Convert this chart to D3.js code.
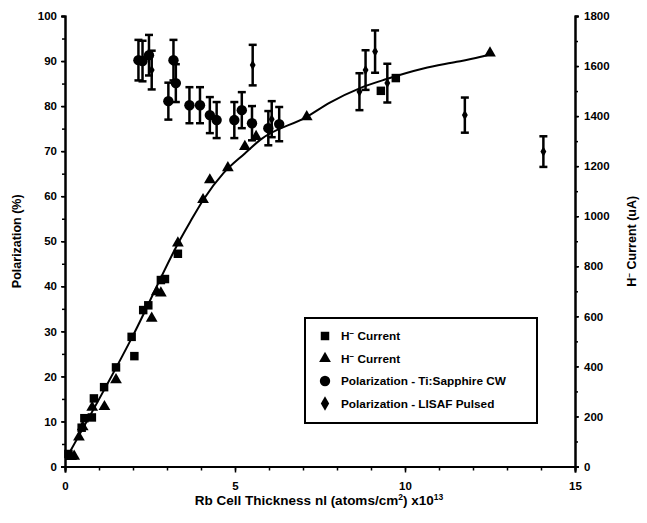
<!DOCTYPE html>
<html>
<head>
<meta charset="utf-8">
<script src="https://cdn.jsdelivr.net/npm/d3@7"></script>
<style>
  body { margin: 0; background: #fff; }
  svg text { font-family: "Liberation Sans", Arial, sans-serif; font-weight: bold; fill: #000; }
</style>
</head>
<body>
<div id="chart"></div>
<script>
// H- current, squares (x in 1e13 atoms/cm2, y in uA)
const squareX = [0.10, 0.49, 0.57, 0.79, 0.85, 1.15, 1.50, 1.96, 2.04, 2.30, 2.45, 2.82, 2.94, 3.32, 9.29, 9.73];
const squareY = [50, 155, 193, 196, 272, 317, 396, 518, 441, 625, 644, 745, 749, 850, 1501, 1552];

// H- current, triangles
const triX = [0.18, 0.27, 0.41, 0.52, 0.80, 1.16, 1.50, 2.55, 2.70, 2.82, 3.32, 4.06, 4.26, 4.79, 5.29, 5.62, 7.11, 12.5];
const triY = [40, 41, 117, 158, 236, 239, 346, 592, 698, 693, 893, 1066, 1145, 1193, 1278, 1318, 1397, 1652];

// Polarization - Ti:Sapphire CW (percent, +/- error)
const cwX = [2.16, 2.28, 2.47, 3.04, 3.19, 3.26, 3.66, 3.97, 4.26, 4.46, 4.98, 5.20, 5.50, 5.98, 6.30];
const cwY = [90.2, 90.0, 91.3, 81.1, 90.2, 85.1, 80.2, 80.2, 78.0, 76.9, 76.9, 79.1, 76.2, 75.1, 76.0];
const cwErr = [4.5, 4.5, 4.5, 4.1, 4.5, 4.2, 4.0, 4.0, 4.0, 4.0, 4.0, 4.0, 3.8, 3.8, 3.8];

// Polarization - LISAF pulsed
const lisafX = [2.55, 5.52, 6.08, 8.66, 8.84, 9.12, 9.48, 11.76, 14.07];
const lisafY = [88.0, 89.1, 77.1, 83.2, 88.0, 92.1, 85.1, 78.0, 69.9];
const lisafErr = [4.3, 4.5, 4.0, 4.1, 4.4, 4.7, 4.3, 3.9, 3.4];

// fitted curve through H- current (uA)
const fitX = [0.05, 2.01, 3.38, 3.68, 4.07, 4.66, 5.29, 5.74, 7.11, 7.79, 8.68, 9.46, 10.54, 11.52, 12.30, 12.5];
const fitY = [36, 526, 905, 977, 1066, 1172, 1251, 1305, 1397, 1454, 1512, 1548, 1590, 1617, 1639, 1647];

const xTicks = [0, 5, 10, 15];
const leftTicks = [0, 10, 20, 30, 40, 50, 60, 70, 80, 90, 100];
const rightTicks = [0, 200, 400, 600, 800, 1000, 1200, 1400, 1600, 1800];

const W = 647, H = 523;
const plotLeft = 65, plotRight = 575, plotTop = 16, plotBottom = 466.5;

const svg = d3.select('#chart').append('svg')
  .attr('width', W)
  .attr('height', H);

const x = d3.scaleLinear().domain([0, 15]).range([plotLeft, plotRight]);
const yL = d3.scaleLinear().domain([0, 100]).range([plotBottom, plotTop]);
const yR = d3.scaleLinear().domain([0, 1800]).range([plotBottom, plotTop]);

function styleAxis(g) {
  g.select('.domain').attr('stroke', '#000').attr('stroke-width', 2);
  g.selectAll('.tick line').attr('stroke', '#000').attr('stroke-width', 1.5);
  g.selectAll('.tick text').attr('font-size', 11.5).attr('font-family', '"Liberation Sans", Arial, sans-serif').attr('font-weight', 'bold');
}

// minor ticks first
svg.append('g').attr('transform', `translate(0,${plotBottom})`)
  .call(d3.axisBottom(x).tickValues(d3.range(0, 16, 1)).tickSize(4).tickFormat(''))
  .call(styleAxis);
svg.append('g').attr('transform', `translate(${plotLeft},0)`)
  .call(d3.axisLeft(yL).tickValues(d3.range(0, 101, 5)).tickSize(3).tickFormat(''))
  .call(styleAxis);
svg.append('g').attr('transform', `translate(${plotRight},0)`)
  .call(d3.axisRight(yR).tickValues(d3.range(0, 1801, 100)).tickSize(3).tickFormat(''))
  .call(styleAxis);

// major ticks
svg.append('g').attr('transform', `translate(0,${plotBottom})`)
  .call(d3.axisBottom(x).tickValues(xTicks).tickSize(6).tickPadding(9).tickFormat(d3.format('d')))
  .call(styleAxis);
svg.append('g').attr('transform', `translate(${plotLeft},0)`)
  .call(d3.axisLeft(yL).tickValues(leftTicks).tickSize(4).tickPadding(4).tickFormat(d3.format('d')))
  .call(styleAxis);
svg.append('g').attr('transform', `translate(${plotRight},0)`)
  .call(d3.axisRight(yR).tickValues(rightTicks).tickSize(4).tickPadding(5).tickFormat(d3.format('d')))
  .call(styleAxis);

// axis titles
svg.append('text')
  .attr('transform', `translate(21,${(plotTop + plotBottom) / 2}) rotate(-90)`)
  .attr('text-anchor', 'middle')
  .attr('font-size', 12.5)
  .text('Polarization (%)');

const rt = svg.append('text')
  .attr('transform', `translate(636,${(plotTop + plotBottom) / 2}) rotate(-90)`)
  .attr('text-anchor', 'middle')
  .attr('font-size', 12.5);
rt.append('tspan').text('H');
rt.append('tspan').attr('dy', -4).attr('font-size', 8).text('−');
rt.append('tspan').attr('dy', 4).text(' Current (uA)');

const xt = svg.append('text')
  .attr('x', 319)
  .attr('y', 505)
  .attr('text-anchor', 'middle')
  .attr('font-size', 13.5);
xt.append('tspan').text('Rb Cell Thickness nl (atoms/cm');
xt.append('tspan').attr('dy', -5).attr('font-size', 8.5).text('2');
xt.append('tspan').attr('dy', 5).text(') x10');
xt.append('tspan').attr('dy', -5).attr('font-size', 8.5).text('13');

// fitted curve
const fitData = fitX.map((d, i) => [d, fitY[i]]);
svg.append('path')
  .datum(fitData)
  .attr('fill', 'none')
  .attr('stroke', '#000')
  .attr('stroke-width', 2)
  .attr('d', d3.line().x(d => x(d[0])).y(d => yR(d[1])).curve(d3.curveMonotoneX));

// error bars
function errorBars(xs, ys, errs, cap) {
  const data = xs.map((d, i) => ({ x: d, y: ys[i], e: errs[i] }));
  const g = svg.append('g').attr('stroke', '#000').attr('stroke-width', 2.5);
  g.selectAll('line.v').data(data).enter().append('line')
    .attr('x1', d => x(d.x)).attr('x2', d => x(d.x))
    .attr('y1', d => yL(d.y - d.e)).attr('y2', d => yL(d.y + d.e));
  g.selectAll('line.t').data(data).enter().append('line')
    .attr('x1', d => x(d.x) - cap).attr('x2', d => x(d.x) + cap)
    .attr('y1', d => yL(d.y + d.e)).attr('y2', d => yL(d.y + d.e));
  g.selectAll('line.b').data(data).enter().append('line')
    .attr('x1', d => x(d.x) - cap).attr('x2', d => x(d.x) + cap)
    .attr('y1', d => yL(d.y - d.e)).attr('y2', d => yL(d.y - d.e));
}
errorBars(cwX, cwY, cwErr, 4);
errorBars(lisafX, lisafY, lisafErr, 4);

const sq = d3.symbol().type(d3.symbolSquare).size(72);
const tri = d3.symbol().type(d3.symbolTriangle).size(60);
const circ = d3.symbol().type(d3.symbolCircle).size(85);
const dia = d3.symbol().type(d3.symbolDiamond).size(30);

svg.append('g').selectAll('path').data(squareX).enter().append('path')
  .attr('d', sq).attr('fill', '#000')
  .attr('transform', (d, i) => `translate(${x(d)},${yR(squareY[i])})`);
svg.append('g').selectAll('path').data(triX).enter().append('path')
  .attr('d', tri).attr('fill', '#000')
  .attr('transform', (d, i) => `translate(${x(d)},${yR(triY[i])})`);
svg.append('g').selectAll('path').data(cwX).enter().append('path')
  .attr('d', circ).attr('fill', '#000')
  .attr('transform', (d, i) => `translate(${x(d)},${yL(cwY[i])})`);
svg.append('g').selectAll('path').data(lisafX).enter().append('path')
  .attr('d', dia).attr('fill', '#000')
  .attr('transform', (d, i) => `translate(${x(d)},${yL(lisafY[i])})`);

// legend
const legend = svg.append('g');
legend.append('rect')
  .attr('x', 305).attr('y', 318).attr('width', 232).attr('height', 105)
  .attr('fill', '#fff').attr('stroke', '#000').attr('stroke-width', 2);
const legendItems = [
  { sym: sq, label: ['H', '−', ' Current'] },
  { sym: tri, label: ['H', '−', ' Current'] },
  { sym: circ, label: ['Polarization - Ti:Sapphire CW'] },
  { sym: d3.symbol().type(d3.symbolDiamond).size(60), label: ['Polarization - LISAF Pulsed'] }
];
legendItems.forEach((item, i) => {
  const cy = 336 + i * 22.5;
  legend.append('path').attr('d', item.sym).attr('fill', '#000')
    .attr('transform', `translate(325,${cy})`);
  const t = legend.append('text').attr('x', 341).attr('y', cy + 4).attr('font-size', 11.8);
  if (item.label.length === 3) {
    t.append('tspan').text(item.label[0]);
    t.append('tspan').attr('dy', -4).attr('font-size', 8).text(item.label[1]);
    t.append('tspan').attr('dy', 4).text(item.label[2]);
  } else {
    t.text(item.label[0]);
  }
});
</script>
</body>
</html>
